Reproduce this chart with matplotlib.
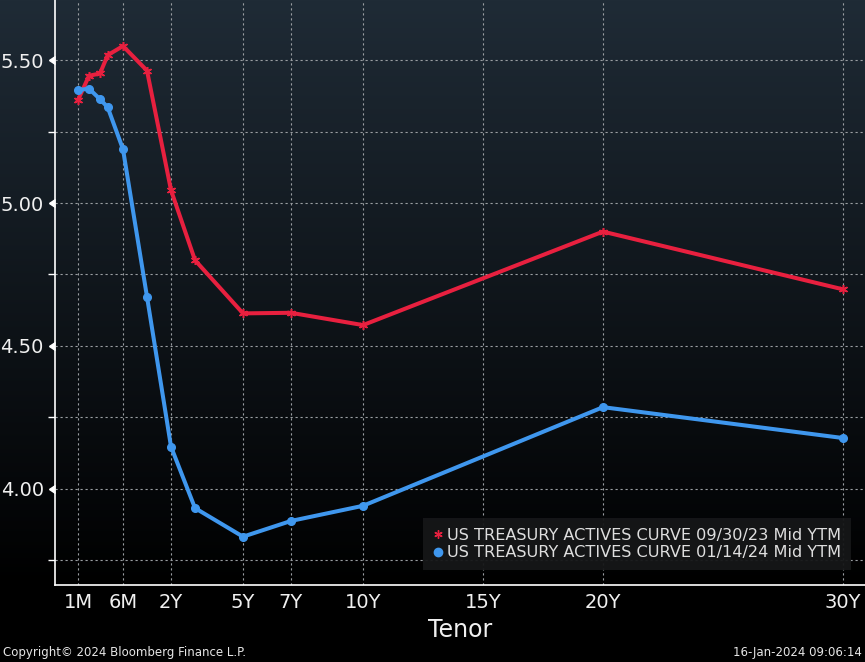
"""US Treasury actives curve comparison, Bloomberg GC style."""

import matplotlib

matplotlib.use("Agg")
import matplotlib.pyplot as plt
import numpy as np
from matplotlib import markers
from matplotlib.lines import Line2D
from matplotlib.ticker import NullLocator

tenors = [1 / 12, 2 / 12, 3 / 12, 4 / 12, 0.5, 1, 2, 3, 5, 7, 10, 20, 30]
curve_0930 = [5.36, 5.445, 5.453, 5.517, 5.549, 5.463, 5.045, 4.80, 4.614, 4.616, 4.573, 4.90, 4.698]
curve_0114 = [5.395, 5.40, 5.363, 5.335, 5.188, 4.672, 4.148, 3.933, 3.833, 3.888, 3.941, 4.286, 4.178]
label_0930 = "US TREASURY ACTIVES CURVE 09/30/23 Mid YTM"
label_0114 = "US TREASURY ACTIVES CURVE 01/14/24 Mid YTM"

tick_tenors = [1 / 12, 0.5, 2, 5, 7, 10, 15, 20, 30]
tick_labels = ["1M", "6M", "2Y", "5Y", "7Y", "10Y", "15Y", "20Y", "30Y"]
yield_major = [4.00, 4.50, 5.00, 5.50]
yield_minor = [3.75, 4.25, 4.75, 5.25]

# tenor axis: money-market end stretched, linear in years from 2Y out
axis_knots = [-1.0, 1 / 12, 0.25, 0.5, 1.0, 2.0, 30.0, 60.0]
axis_pos = [-143.0, 0.0, 22.0, 45.0, 69.0, 93.0, 765.0, 1485.0]

RED = "#e8203f"
BLUE = "#3f97ee"
GRID = "#9a9ea2"
TEXT = "#f0f0f0"


def to_axis(t):
    return np.interp(t, axis_knots, axis_pos)


def from_axis(p):
    return np.interp(p, axis_pos, axis_knots)


fig = plt.figure(figsize=(8.65, 6.62), dpi=100, facecolor="black")

# dark slate to black backdrop
bg = fig.add_axes([0, 0, 1, 1], zorder=-10)
rows = 662
fade = np.clip(np.arange(rows) / 585.0, 0, 1)[:, None]
top = np.array([31, 43, 54]) / 255.0
grad = (top[None, :] * (1 - fade))[:, None, :]
bg.imshow(grad, extent=[0, 1, 0, 1], aspect="auto")
bg.axis("off")

ax = fig.add_axes([55 / 865, 77 / 662, 810 / 865, 585 / 662])
ax.set_facecolor("none")
ax.set_xscale("function", functions=(to_axis, from_axis))

ax.plot(tenors, curve_0930, color=RED, lw=2.9, marker=(6, 2, 0), ms=6.5, mew=1.1, zorder=3)
ax.plot(tenors, curve_0114, color=BLUE, lw=2.9, marker="o", ms=5.5, zorder=4)

ax.set_xlim(from_axis(-23), from_axis(787))
ax.set_ylim(3.664, 5.71)

ax.set_xticks(tick_tenors)
ax.set_xticklabels(tick_labels)
ax.xaxis.set_minor_locator(NullLocator())
ax.set_yticks(yield_major)
ax.set_yticklabels([f"{v:.2f}" for v in yield_major])
ax.set_yticks(yield_minor, minor=True)

ax.tick_params(axis="x", which="major", length=0, pad=6, labelsize=14, labelcolor=TEXT)
ax.tick_params(axis="y", which="major", length=6, width=1, color="white", pad=2, labelsize=14, labelcolor=TEXT)
ax.tick_params(axis="y", which="minor", length=5, width=1, color="white")
for tick in ax.yaxis.get_major_ticks():
    tick.tick1line.set_marker(markers.CARETLEFTBASE)

ax.grid(which="major", axis="both", color=GRID, lw=0.8, ls=(0, (2, 2.5)))
ax.grid(which="minor", axis="y", color=GRID, lw=0.8, ls=(0, (2, 2.5)))
ax.set_axisbelow(True)

for side in ["top", "right"]:
    ax.spines[side].set_visible(False)
for side in ["left", "bottom"]:
    ax.spines[side].set_color("white")
    ax.spines[side].set_linewidth(1.2)

ax.set_xlabel("Tenor", color=TEXT, fontsize=17, labelpad=4)

handles = [
    Line2D([], [], ls="none", color=RED, marker=(6, 2, 0), ms=6, mew=1.0),
    Line2D([], [], ls="none", color=BLUE, marker="o", ms=6),
]
leg = ax.legend(
    handles,
    [label_0930, label_0114],
    loc="lower right",
    bbox_to_anchor=(0.983, 0.0256),
    borderaxespad=0,
    fontsize=11.6,
    handlelength=0.6,
    handletextpad=0.3,
    labelspacing=0.15,
    borderpad=0.6,
    frameon=True,
    fancybox=False,
)
leg.get_frame().set_facecolor("#161718")
leg.get_frame().set_edgecolor("none")
leg.get_frame().set_alpha(0.95)
for txt in leg.get_texts():
    txt.set_color("#dedede")

fig.text(3 / 865, 3 / 662, "Copyright\u00a9 2024 Bloomberg Finance L.P.", color="#e6e6e6", fontsize=8.5,
         ha="left", va="bottom")
fig.text(862 / 865, 3 / 662, "16-Jan-2024 09:06:14", color="#e6e6e6", fontsize=8.5, ha="right", va="bottom")

fig.savefig("out.png", dpi=100, facecolor="black")
